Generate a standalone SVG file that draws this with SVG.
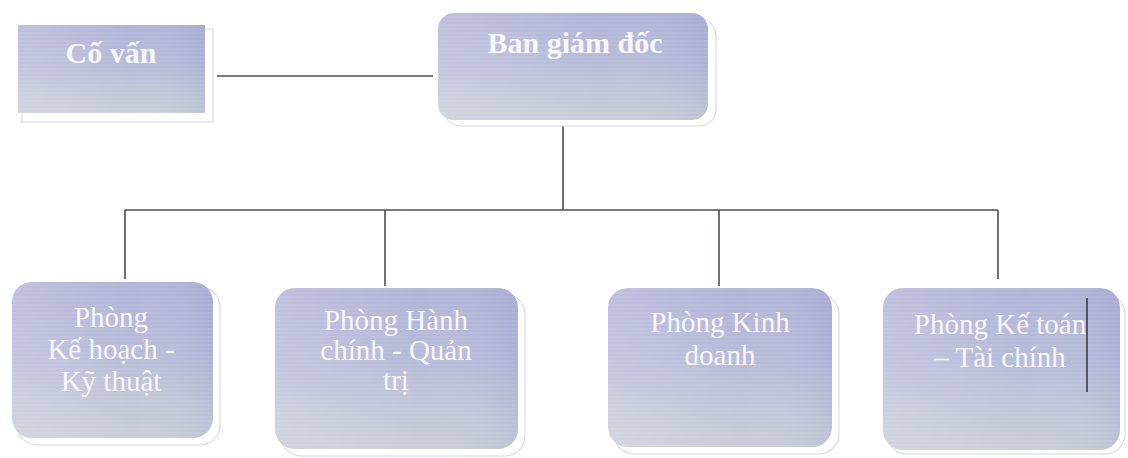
<svg xmlns="http://www.w3.org/2000/svg" width="1128" height="458" viewBox="0 0 1128 458">
<style>
.shadow{fill:#ffffff;stroke:#d4d4dc;stroke-width:1}
.box{stroke:none}
.t{font-family:"Liberation Serif","Times New Roman",serif;fill:#f6f6fb;text-anchor:middle}
.tb{font-weight:bold;font-size:30px}
.tr{font-size:29px}
.conn{stroke:#4c4c5c;stroke-width:1.6;fill:none}
</style>
<defs>
<linearGradient id="g" x1="0" y1="0" x2="0" y2="1">
<stop offset="0" stop-color="#b1b3d6"/>
<stop offset="0.45" stop-color="#b7bad8"/>
<stop offset="0.75" stop-color="#c1c6d9"/>
<stop offset="1" stop-color="#c8cdd7"/>
</linearGradient>
<linearGradient id="gh" x1="0" y1="0" x2="1" y2="0">
<stop offset="0" stop-color="#ffffff" stop-opacity="0.16"/>
<stop offset="0.6" stop-color="#ffffff" stop-opacity="0"/>
<stop offset="1" stop-color="#6a70b8" stop-opacity="0.12"/>
</linearGradient>
<pattern id="stripes" width="8" height="4" patternUnits="userSpaceOnUse">
<rect width="8" height="2" fill="#ffffff" fill-opacity="0.06"/>
</pattern>
</defs>

<g id="connectors">
<line class="conn" x1="217" y1="76" x2="433" y2="76"/>
<line class="conn" x1="563" y1="126" x2="563" y2="210"/>
<line class="conn" x1="125" y1="210" x2="998" y2="210"/>
<line class="conn" x1="125" y1="210" x2="125" y2="279"/>
<line class="conn" x1="385" y1="210" x2="385" y2="286"/>
<line class="conn" x1="719" y1="210" x2="719" y2="286"/>
<line class="conn" x1="998" y1="210" x2="998" y2="279"/>
</g>

<g id="co-van">
<rect class="shadow" x="22" y="29" width="191" height="93"/>
<rect class="box" x="18" y="25" width="187" height="88" fill="url(#g)"/>
<rect x="18" y="25" width="187" height="88" fill="url(#gh)"/>
<rect x="18" y="25" width="187" height="88" fill="url(#stripes)"/>
<text class="t tb" x="111" y="63">Cố vấn</text>
</g>

<g id="ban-giam-doc">
<rect class="shadow" x="444" y="19" width="272" height="107" rx="16"/>
<rect class="box" x="438" y="13" width="270" height="107" rx="16" fill="url(#g)"/>
<rect x="438" y="13" width="270" height="107" rx="16" fill="url(#gh)"/>
<rect x="438" y="13" width="270" height="107" rx="16" fill="url(#stripes)"/>
<text class="t tb" x="575" y="53">Ban giám đốc</text>
</g>

<g id="phong-ke-hoach">
<rect class="shadow" x="17" y="287" width="203" height="158" rx="20"/>
<rect class="box" x="12" y="282" width="201" height="156" rx="20" fill="url(#g)"/>
<rect x="12" y="282" width="201" height="156" rx="20" fill="url(#gh)"/>
<rect x="12" y="282" width="201" height="156" rx="20" fill="url(#stripes)"/>
<text class="t tr" x="111" y="327">Phòng</text>
<text class="t tr" x="111" y="359">Kế hoạch -</text>
<text class="t tr" x="111" y="391">Kỹ thuật</text>
</g>

<g id="phong-hanh-chinh">
<rect class="shadow" x="281" y="294" width="244" height="162" rx="20"/>
<rect class="box" x="275" y="288" width="243" height="161" rx="20" fill="url(#g)"/>
<rect x="275" y="288" width="243" height="161" rx="20" fill="url(#gh)"/>
<rect x="275" y="288" width="243" height="161" rx="20" fill="url(#stripes)"/>
<text class="t tr" x="396" y="330">Phòng Hành</text>
<text class="t tr" x="396" y="360">chính - Quản</text>
<text class="t tr" x="396" y="390">trị</text>
</g>

<g id="phong-kinh-doanh">
<rect class="shadow" x="614" y="294" width="225" height="160" rx="20"/>
<rect class="box" x="608" y="288" width="224" height="159" rx="20" fill="url(#g)"/>
<rect x="608" y="288" width="224" height="159" rx="20" fill="url(#gh)"/>
<rect x="608" y="288" width="224" height="159" rx="20" fill="url(#stripes)"/>
<text class="t tr" x="720" y="332">Phòng Kinh</text>
<text class="t tr" x="720" y="365">doanh</text>
</g>

<g id="phong-ke-toan">
<rect class="shadow" x="887" y="294" width="238" height="160" rx="20"/>
<rect class="box" x="883" y="288" width="237" height="162" rx="20" fill="url(#g)"/>
<rect x="883" y="288" width="237" height="162" rx="20" fill="url(#gh)"/>
<rect x="883" y="288" width="237" height="162" rx="20" fill="url(#stripes)"/>
<text class="t tr" x="1000" y="334">Phòng Kế toán</text>
<text class="t tr" x="1000" y="367">– Tài chính</text>
<line x1="1087" y1="298" x2="1087" y2="392" stroke="#3c3c4c" stroke-width="1.6"/>
</g>
</svg>
